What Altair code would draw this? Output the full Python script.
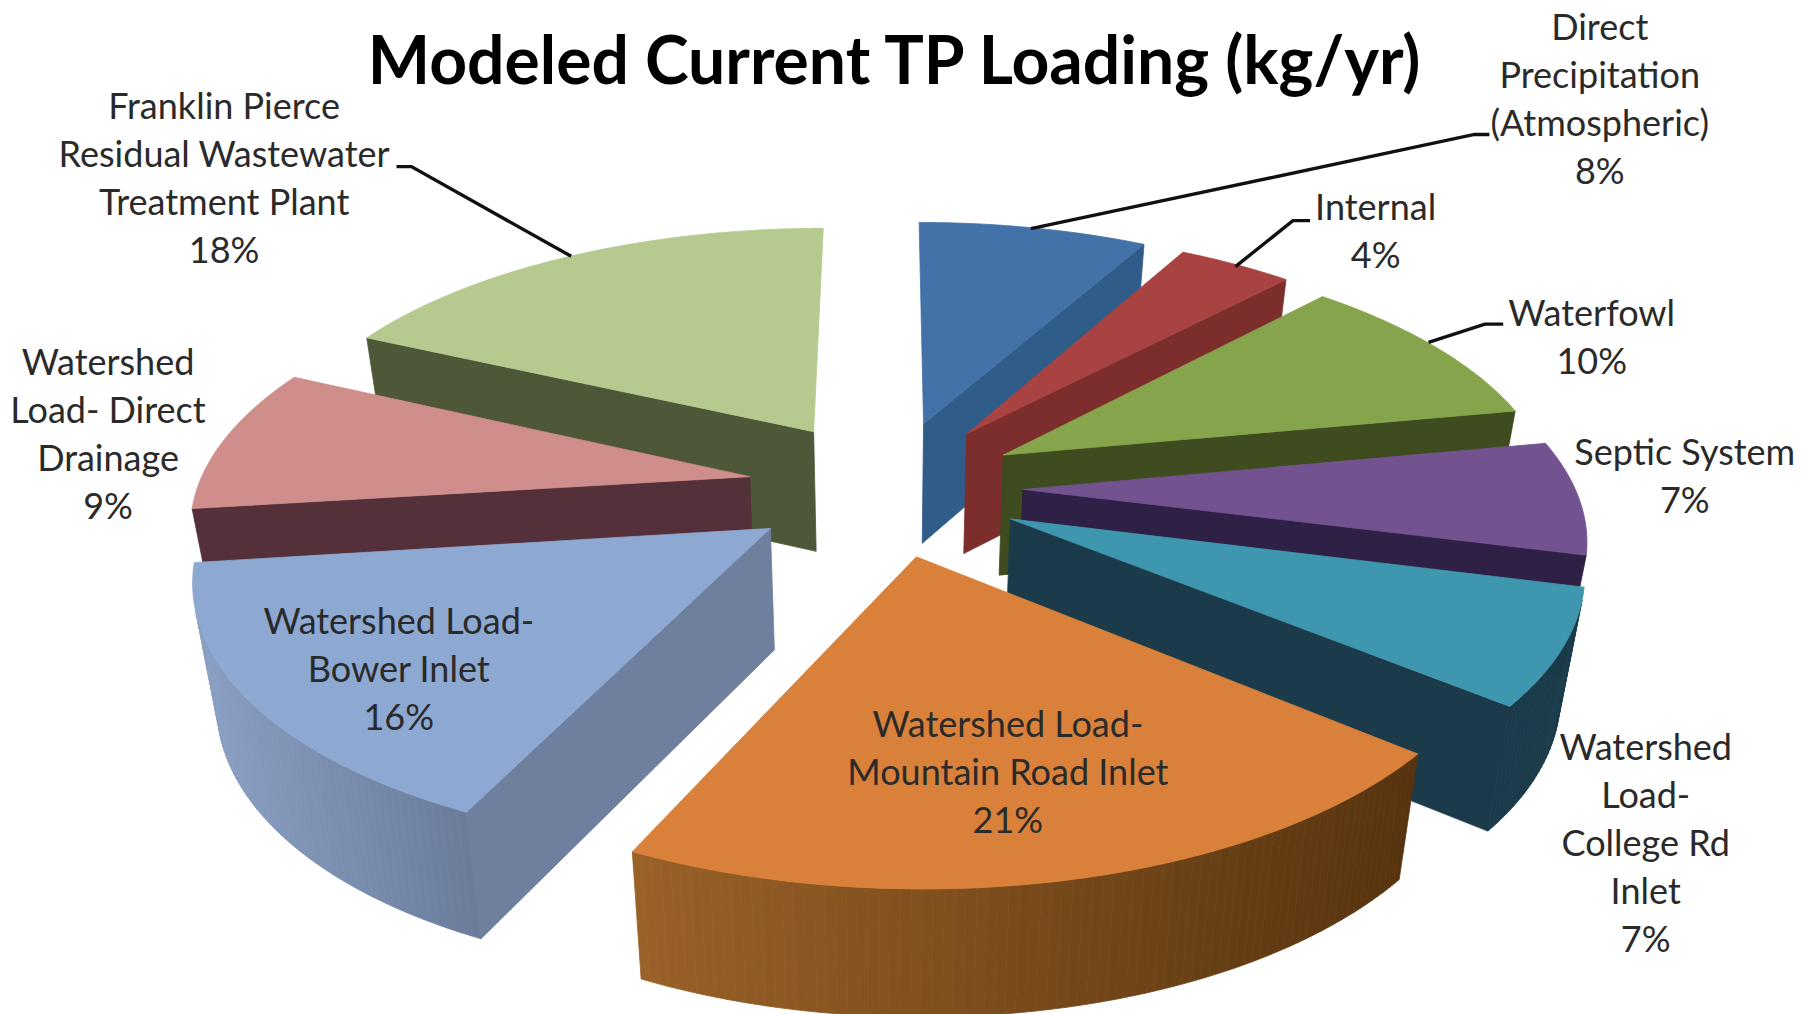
import math
import altair as alt
import pandas as pd

alt.data_transformers.disable_max_rows()

# ---- values
names = ["Direct\nPrecipitation\n(Atmospheric)", "Internal", "Waterfowl", "Septic System",
         "Watershed\nLoad-\nCollege Rd\nInlet", "Watershed Load-\nMountain Road Inlet",
         "Watershed Load-\nBower Inlet", "Watershed\nLoad- Direct\nDrainage",
         "Franklin Pierce\nResidual Wastewater\nTreatment Plant"]
shares = [8, 4, 10, 7, 7, 21, 16, 9, 18]
title_text = "Modeled Current TP Loading (kg/yr)"

# ---- styles
top_colors = ["#4372A9", "#A84342", "#86A44B", "#72538F", "#3F97AF", "#D9813A", "#8DA8D1", "#CF8E8C", "#B6CA90"]
face_colors = ["#305C8A", "#7B2E2C", "#3F4C1F", "#2E2145", "#1B3B4A", "#7A4A22", "#6E809E", "#54303A", "#4E5738"]
rim_left = ["#35608C", "#7A3230", "#4A5A26", "#35264F", "#1B3B4A", "#9A6128", "#8A9FC3", "#5E3840", "#566040"]
rim_right = ["#2A4C70", "#642725", "#3A4A1C", "#281C3C", "#1B3B4A", "#57340F", "#6A7C9A", "#4C2C34", "#474F32"]
paint_order = [0, 1, 8, 2, 7, 3, 6, 4, 5]
slice_nudge = [5, 3, 0, 0, 0, 0, 0, 0, 0]

# ---- perspective model of the tilted pie (in units of the 1568 px wide view)
K = 1802 / 1568
CX, CY, RX, A, PERSP = 770, 424, 480, 220, 0.162
EX, EY = 0.25, 0.27


def project(px, py, dx=0):
    s = 1 / (1 + PERSP * py)
    return CX + RX * px * s + dx, CY - A * py * s, s


def drop(p):
    x, y, s = p
    return CX + (x - CX) * 0.965, y + 80 + 25 * s


def hexmix(a, b, t):
    ca = [int(a[i:i + 2], 16) for i in (1, 3, 5)]
    cb = [int(b[i:i + 2], 16) for i in (1, 3, 5)]
    return "#%02x%02x%02x" % tuple(round(u + (v - u) * t) for u, v in zip(ca, cb))


def area(pts):
    return sum(pts[i][0] * pts[(i + 1) % len(pts)][1] - pts[(i + 1) % len(pts)][0] * pts[i][1]
               for i in range(len(pts)))


rows = []
counter = [0]


def add(pts, color):
    counter[0] += 1
    pid = f"p{counter[0]:05d}"
    for j, (x, y) in enumerate(pts):
        rows.append({"x": x * K, "y": y * K, "poly": pid, "pt": j, "c": color})


edges = [0]
for v in shares:
    edges.append(edges[-1] + v / sum(shares) * 360)

for i in paint_order:
    a0, a1 = math.radians(edges[i]), math.radians(edges[i + 1])
    mid = (a0 + a1) / 2
    ox, oy = EX * math.sin(mid), EY * math.cos(mid)
    n = max(6, int(shares[i] * 4))
    dx = slice_nudge[i]
    arc = [project(ox + math.sin(a0 + (a1 - a0) * k / n), oy + math.cos(a0 + (a1 - a0) * k / n), dx)
           for k in range(n + 1)]
    apex = project(ox, oy, dx)
    for face in ([apex, arc[0]], [arc[-1], apex]):
        q = [face[0][:2], face[1][:2], drop(face[1]), drop(face[0])]
        if area(q) < -6000:
            add(q, face_colors[i])
    xs = [p[0] for p in arc]
    for k in range(n):
        q = [arc[k][:2], arc[k + 1][:2], drop(arc[k + 1]), drop(arc[k])]
        if area(q) < 0:
            t = min(1, max(0, ((arc[k][0] + arc[k + 1][0]) / 2 - min(xs)) / (max(xs) - min(xs) + 1e-6)))
            add(q, hexmix(rim_left[i], rim_right[i], t))
    add([apex[:2]] + [p[:2] for p in arc], top_colors[i])

df = pd.DataFrame(rows)
X = alt.X("x:Q", axis=None, scale=alt.Scale(domain=[8, 1794]))
Y = alt.Y("y:Q", axis=None, scale=alt.Scale(domain=[1014, 8]))

polys = alt.Chart(df).mark_line(interpolate="linear-closed", strokeWidth=0.8, clip=True).encode(
    x=X, y=Y, detail="poly:N", order="pt:Q",
    fill=alt.Fill("c:N", scale=None), stroke=alt.Stroke("c:N", scale=None))

# ---- leader lines (label anchors in the 1568 px view)
leader_paths = [[(897, 199), (1283, 117), (1296, 117)],
                [(1075, 232), (1125, 192), (1140, 192)],
                [(1243, 298), (1292, 282), (1308, 282)],
                [(497, 223), (358, 145), (345, 145)]]
lrows = [{"x": x * K, "y": y * K, "l": f"l{a}", "pt": b}
         for a, path in enumerate(leader_paths) for b, (x, y) in enumerate(path)]
leaders = alt.Chart(pd.DataFrame(lrows)).mark_line(color="#111111", strokeWidth=3.4).encode(
    x=X, y=Y, detail="l:N", order="pt:Q")

# first-line anchor of each label
label_pos = [(1392, 25), (1197, 182), (1385, 274), (1466, 395), (1432, 652),
             (877, 632), (347, 542), (94, 317), (195, 94)]
ldf = pd.DataFrame([{"x": p[0] * K, "y": p[1] * K, "t": f"{n}\n{s}%"}
                    for n, s, p in zip(names, shares, label_pos)])
labels = alt.Chart(ldf).mark_text(font="Lato", fontSize=36, lineBreak="\n", lineHeight=48,
                                  align="center", baseline="middle", color="#2a2a2a").encode(
    x=X, y=Y, text="t:N")

title = alt.Chart(pd.DataFrame([{"x": 778 * K, "y": 56 * K, "t": title_text}])).mark_text(
    font="Lato", fontSize=66, fontWeight="bold", align="center", baseline="middle", color="#000000").encode(
    x=X, y=Y, text="t:N")

chart = alt.layer(polys, leaders, labels, title).properties(
    width=1786, height=1006, padding=0, autosize=alt.AutoSizeParams(type="none"),
    background="white").configure_view(stroke=None)

chart.save("out.html", embed_options={"renderer": "svg", "actions": False})
